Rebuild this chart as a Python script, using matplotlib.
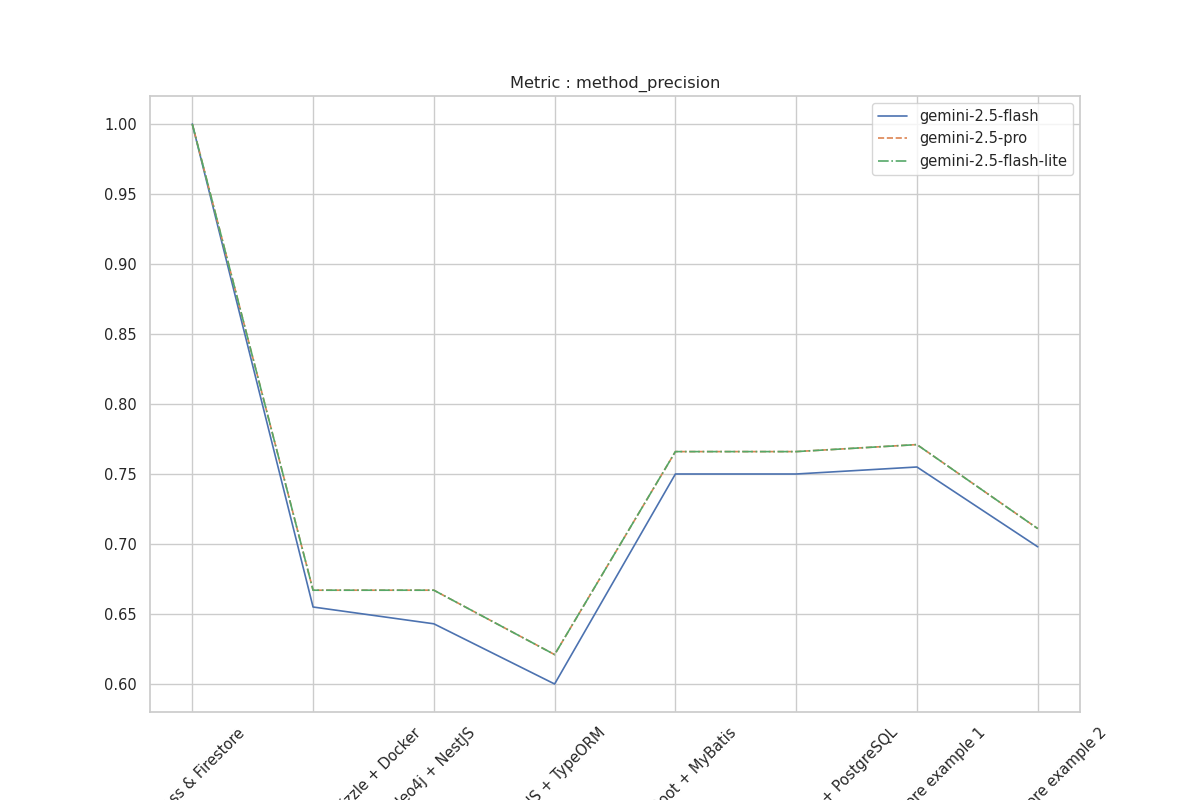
import matplotlib
matplotlib.use("Agg")
import matplotlib.pyplot as plt
import seaborn as sns

categories = [
    "Express & Firestore",
    "Next.js + PostgreSQL + Drizzle + Docker",
    "Neo4j + NestJS",
    "NestJS + TypeORM",
    "Spring Boot + MyBatis",
    "SpringBoot + Hibernate + PostgreSQL",
    "Node Firestore example 1",
    "Node Firestore example 2",
]
flash = [1.0, 0.655, 0.643, 0.600, 0.750, 0.750, 0.755, 0.698]
pro = [1.0, 0.667, 0.667, 0.621, 0.766, 0.766, 0.771, 0.711]
lite = [1.0, 0.667, 0.667, 0.621, 0.766, 0.766, 0.771, 0.711]
series_names = ["gemini-2.5-flash", "gemini-2.5-pro", "gemini-2.5-flash-lite"]

sns.set_theme(style="whitegrid", palette="deep")
fig, ax = plt.subplots(figsize=(12, 8), dpi=100)
styles = ["-", "--", "-."]
for name, vals, ls in zip(series_names, [flash, pro, lite], styles):
    ax.plot(categories, vals, linestyle=ls, linewidth=1.2, label=name)

ax.set_title("Metric : method_precision", fontsize=11.7)
ax.tick_params(axis="both", labelsize=10.5)
ax.tick_params(axis="x", labelrotation=45)
ax.legend(loc="upper right", fontsize=10.5)
fig.savefig("out.png", dpi=100)
